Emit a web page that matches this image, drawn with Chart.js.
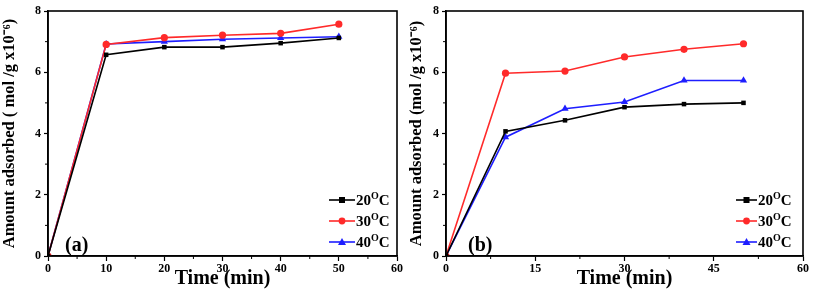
<!DOCTYPE html>
<html><head><meta charset="utf-8">
<script src="https://cdn.jsdelivr.net/npm/chart.js@4.4.1/dist/chart.umd.min.js"></script>
<style>
html,body{margin:0;padding:0;background:#fff;}
#wrap{position:relative;width:814px;height:292px;}
.panel{position:absolute;top:0;height:292px;}
</style></head>
<body>
<div id="wrap">
<div class="panel" style="left:0;width:407px"><canvas id="ca"></canvas></div>
<div class="panel" style="left:407px;width:407px"><canvas id="cb"></canvas></div>
</div>
<script>
// ---- data ----
const times = [0, 10, 20, 30, 40, 50];
const seriesLabels = ['20', '30', '40'];
const a20 = [0, 6.57, 6.82, 6.82, 6.95, 7.12];
const a30 = [0, 6.91, 7.13, 7.21, 7.27, 7.57];
const a40 = [0, 6.92, 7.00, 7.08, 7.12, 7.16];
const b20 = [0, 4.07, 4.43, 4.86, 4.96, 5.00];
const b30 = [0, 5.97, 6.04, 6.50, 6.75, 6.93];
const b40 = [0, 3.88, 4.81, 5.03, 5.73, 5.73];
const yTicks = [0, 2, 4, 6, 8];
const xTicksA = [0, 10, 20, 30, 40, 50, 60];
const xTicksB = [0, 15, 30, 45, 60];
const yTitleA = 'Amount adsorbed ( mol /g x10\u207B\u2076)';
const yTitleB = 'Amount adsorbed (mol /g x10\u207B\u2076)';
const xTitle = 'Time (min)';

const SERIF = '"Liberation Serif", "Times New Roman", serif';
const colors = ['#000000', '#ff2a2a', '#1e1eff'];
const styles = ['rect', 'circle', 'triangle'];
const radii = [3.2, 3.6, 4.2];

function mkData(vals){ return times.map((t,i)=>({x:t,y:vals[i]})); }

function mkDatasets(arrs){
  return arrs.map((v,i)=>({
    label: seriesLabels[i],
    data: mkData(v),
    borderColor: colors[i], backgroundColor: colors[i],
    borderWidth: 1.6, pointStyle: styles[i], pointRadius: radii[i],
    pointBorderWidth: 0, tension: 0
  }));
}

const decor = {
  id: 'decor',
  afterDraw(chart, args, opts){
    const ctx = chart.ctx, ca = chart.chartArea;
    const xs = chart.scales.x, ys = chart.scales.y;
    ctx.save();
    ctx.strokeStyle = '#000';
    ctx.lineWidth = 1.6;
    ctx.strokeRect(ca.left, ca.top, ca.right - ca.left, ca.bottom - ca.top);
    // minor ticks
    ctx.lineWidth = 1;
    opts.minorX.forEach(v=>{
      const p = xs.getPixelForValue(v);
      ctx.beginPath(); ctx.moveTo(p, ca.bottom); ctx.lineTo(p, ca.bottom + 3); ctx.stroke();
    });
    [1,3,5,7].forEach(v=>{
      const p = ys.getPixelForValue(v);
      ctx.beginPath(); ctx.moveTo(ca.left, p); ctx.lineTo(ca.left - 3, p); ctx.stroke();
    });
    // panel label
    ctx.fillStyle = '#000';
    ctx.font = 'bold 20px ' + SERIF;
    ctx.textBaseline = 'middle';
    ctx.fillText(opts.panel, ca.left + opts.panelDx, ca.bottom - 10);
    // legend
    const ds = chart.data.datasets;
    const rows = [ca.bottom - 56, ca.bottom - 35, ca.bottom - 14];
    ds.forEach((d,i)=>{
      const y = rows[i];
      const x0 = ca.right - opts.legW;
      ctx.strokeStyle = d.borderColor; ctx.lineWidth = 1.6;
      ctx.beginPath(); ctx.moveTo(x0, y); ctx.lineTo(x0 + opts.lineLen, y); ctx.stroke();
      ctx.fillStyle = d.borderColor;
      const mx = x0 + opts.lineLen/2;
      if (i===0){ ctx.fillRect(mx-3, y-3, 6, 6); }
      else if (i===1){ ctx.beginPath(); ctx.arc(mx, y, 3.4, 0, Math.PI*2); ctx.fill(); }
      else { ctx.beginPath(); ctx.moveTo(mx, y-4); ctx.lineTo(mx+4, y+3); ctx.lineTo(mx-4, y+3); ctx.closePath(); ctx.fill(); }
      ctx.fillStyle = '#000';
      let tx = x0 + opts.lineLen + 1;
      ctx.font = 'bold 15px ' + SERIF;
      ctx.fillText(d.label, tx, y+1); tx += ctx.measureText(d.label).width;
      ctx.font = 'bold 10px ' + SERIF;
      ctx.fillText('O', tx, y-4); tx += ctx.measureText('O').width;
      ctx.font = 'bold 15px ' + SERIF;
      ctx.fillText('C', tx, y+1);
    });
    ctx.restore();
  }
};

function mkChart(id, arrs, xTicks, yTitle, yW, padR, panel, minorX, legW, lineLen, panelDx){
  const step = xTicks[1] - xTicks[0];
  return new Chart(document.getElementById(id), {
    type: 'line',
    data: { datasets: mkDatasets(arrs) },
    plugins: [decor],
    options: {
      responsive: true, maintainAspectRatio: false, animation: false,
      layout: { padding: { top: 11, right: padR, left: 0, bottom: 0 } },
      plugins: { legend: { display: false }, tooltip: { enabled: false },
        decor: { panel, minorX, legW, lineLen, panelDx } },
      scales: {
        x: {
          type: 'linear', min: xTicks[0], max: xTicks[xTicks.length-1],
          afterBuildTicks: s => { s.ticks = xTicks.map(v=>({value:v})); },
          ticks: { stepSize: step, color:'#000', font:{family:SERIF, weight:'bold', size:12}, padding: 1, maxRotation:0 },
          grid: { drawOnChartArea: false, tickLength: 5, tickColor:'#000', tickWidth: 1.2 },
          border: { color:'#000', width: 1.6 },
          title: { display: true, text: xTitle, color:'#000', font:{family:SERIF, weight:'bold', size:20}, padding:{top:0,bottom:1} },
          afterFit: s => { s.height = 36; }
        },
        y: {
          min: 0, max: 8,
          afterBuildTicks: s => { s.ticks = yTicks.map(v=>({value:v})); },
          ticks: { stepSize: 2, color:'#000', font:{family:SERIF, weight:'bold', size:12}, padding: 3 },
          grid: { drawOnChartArea: false, tickLength: 4, tickColor:'#000', tickWidth: 1.2 },
          border: { color:'#000', width: 1.6 },
          title: { display: true, text: yTitle, color:'#000', font:{family:SERIF, weight:'bold', size:16.5}, padding:{top:0,bottom:0} },
          afterFit: s => { s.width = yW; }
        }
      }
    }
  });
}

mkChart('ca', [a20,a30,a40], xTicksA, yTitleA, 48, 10, '(a)', [5,15,25,35,45,55], 68, 26, 17);
mkChart('cb', [b20,b30,b40], xTicksB, yTitleB, 39, 11, '(b)', [7.5,22.5,37.5,52.5], 67, 21, 22);
</script>
</body></html>
